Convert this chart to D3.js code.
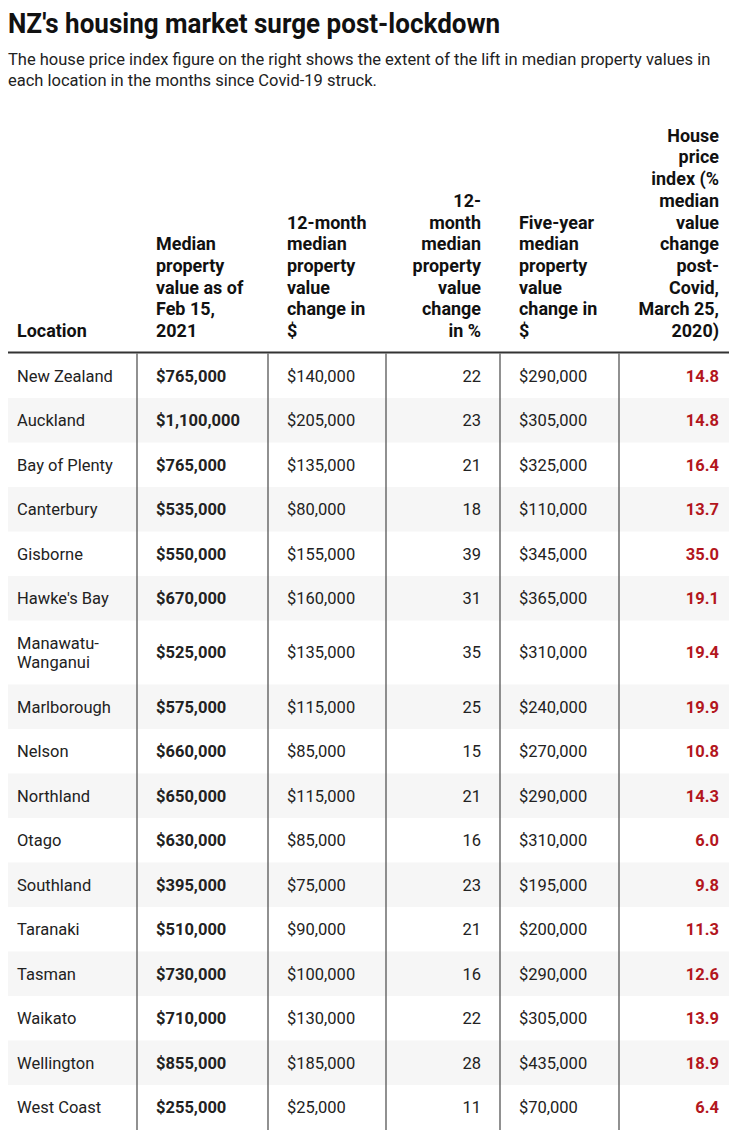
<!DOCTYPE html>
<html><head><meta charset="utf-8">
<script src="https://cdn.jsdelivr.net/npm/d3@7"></script>
<style>body{margin:0;background:#fff;} svg{display:block;font-family:Roboto,"Noto Sans",sans-serif;}</style>
</head><body><svg id="c" width="740" height="1130"></svg>
<script>
const titleText = "NZ's housing market surge post-lockdown";
const subtitleLines = ["The house price index figure on the right shows the extent of the lift in median property values in",
  "each location in the months since Covid-19 struck."];
const locations = ["New Zealand","Auckland","Bay of Plenty","Canterbury","Gisborne","Hawke's Bay","Manawatu-Wanganui","Marlborough","Nelson","Northland","Otago","Southland","Taranaki","Tasman","Waikato","Wellington","West Coast"];
const medianValue = [765000,1100000,765000,535000,550000,670000,525000,575000,660000,650000,630000,395000,510000,730000,710000,855000,255000];
const change12Dollar = [140000,205000,135000,80000,155000,160000,135000,115000,85000,115000,85000,75000,90000,100000,130000,185000,25000];
const change12Pct = [22,23,21,18,39,31,35,25,15,21,16,23,21,16,22,28,11];
const change5Dollar = [290000,305000,325000,110000,345000,365000,310000,240000,270000,290000,310000,195000,200000,290000,305000,435000,70000];
const hpiChange = [14.8,14.8,16.4,13.7,35.0,19.1,19.4,19.9,10.8,14.3,6.0,9.8,11.3,12.6,13.9,18.9,6.4];
const headerLines = [
  ["Location"],
  ["Median","property","value as of","Feb 15,","2021"],
  ["12-month","median","property","value","change in","$"],
  ["12-","month","median","property","value","change","in %"],
  ["Five-year","median","property","value","change in","$"],
  ["House","price","index (%","median","value","change","post-","Covid,","March 25,","2020)"]
];

const svg = d3.select("#c");
const ink = "#222";
const red = "#b3161d";
const fmtDollar = d3.format("$,");
const fmtPct = d3.format("d");
const fmtHpi = d3.format(".1f");

// columns
const colKeys = ["loc","median","c12d","c12p","c5d","hpi"];
const colLeft = d3.scaleOrdinal().domain(colKeys).range([8,137,268,386,500,619]);
const colRight = d3.scaleOrdinal().domain(colKeys).range([137,268,386,500,619,729]);
const colAlign = d3.scaleOrdinal().domain(colKeys).range(["start","start","start","end","start","end"]);
const padL = d3.scaleOrdinal().domain(colKeys).range([9,19,19,19,19,19]);
const padR = d3.scaleOrdinal().domain(colKeys).range([10,10,10,19,10,10]);
const textX = k => colAlign(k) === "end" ? colRight(k) - padR(k) : colLeft(k) + padL(k);

function addText(g, x, y, txt, opts) {
  return g.append("text")
    .attr("transform", `translate(${x},${y}) scale(${opts.sx || 1},1)`)
    .attr("text-anchor", opts.anchor || "start")
    .attr("font-size", opts.size)
    .attr("font-weight", opts.weight || 400)
    .attr("fill", opts.fill || ink)
    .text(txt);
}
addText(svg, 8, 33, titleText, {size: 28, weight: 700, sx: 0.93, fill: "#111"});
subtitleLines.forEach((l, i) => addText(svg, 8, 65 + i * 21, l, {size: 16.5, sx: 1.0, fill: "#222"}));

// header
const headBase = 337, headLH = 21.7;
const hg = svg.append("g");
colKeys.forEach((k, ci) => {
  const lines = headerLines[ci];
  lines.forEach((l, li) => {
    addText(hg, textX(k), headBase - (lines.length - 1 - li) * headLH, l,
      {size: 18.5, weight: 700, sx: 0.97, anchor: colAlign(k), fill: "#111"});
  });
});

// rows
const bodySize = 16.5, lineH = 19.5, baseRowH = 44.5;
const measure = svg.append("text").attr("font-size", bodySize).attr("visibility","hidden");
function wrapLoc(s) {
  const maxW = colRight("loc") - colLeft("loc") - padL("loc") - 8;
  measure.text(s);
  if (measure.node().getComputedTextLength() <= maxW) return [s];
  const i = s.indexOf("-");
  if (i > 0) return [s.slice(0, i + 1), s.slice(i + 1)];
  const j = s.lastIndexOf(" ");
  return [s.slice(0, j), s.slice(j + 1)];
}
const rows = locations.map((loc, i) => ({
  locLines: wrapLoc(loc),
  vals: [fmtDollar(medianValue[i]), fmtDollar(change12Dollar[i]), fmtPct(change12Pct[i]), fmtDollar(change5Dollar[i]), fmtHpi(hpiChange[i])]
}));
measure.remove();
let y = 353.5;
rows.forEach(r => { r.h = baseRowH + (r.locLines.length - 1) * lineH; r.y = y; y += r.h; });
const tableBottom = 1130;

const rg = svg.append("g");
rows.forEach((r, i) => {
  if (i % 2 === 1) rg.append("rect").attr("x", 8).attr("y", r.y).attr("width", 721).attr("height", r.h).attr("fill", "#f6f6f6");
});
rows.forEach((r, i) => {
  const cy = r.y + r.h / 2;
  const off = bodySize * 0.355;
  r.locLines.forEach((l, li) => {
    addText(rg, textX("loc"), cy + off + (li - (r.locLines.length - 1) / 2) * lineH, l, {size: bodySize});
  });
  r.vals.forEach((v, vi) => {
    const k = colKeys[vi + 1];
    addText(rg, textX(k), cy + off, v, {
      size: bodySize, anchor: colAlign(k),
      weight: (k === "median" || k === "hpi") ? 700 : 400,
      fill: k === "hpi" ? red : ink
    });
  });
});

// lines
svg.append("line").attr("x1", 8).attr("x2", 729).attr("y1", 352.5).attr("y2", 352.5).attr("stroke", "#333").attr("stroke-width", 2);
colKeys.slice(1).forEach(k => {
  svg.append("line").attr("x1", colLeft(k)).attr("x2", colLeft(k)).attr("y1", 353.5).attr("y2", tableBottom)
    .attr("stroke", "#555").attr("stroke-width", 1.3);
});
</script></body></html>
